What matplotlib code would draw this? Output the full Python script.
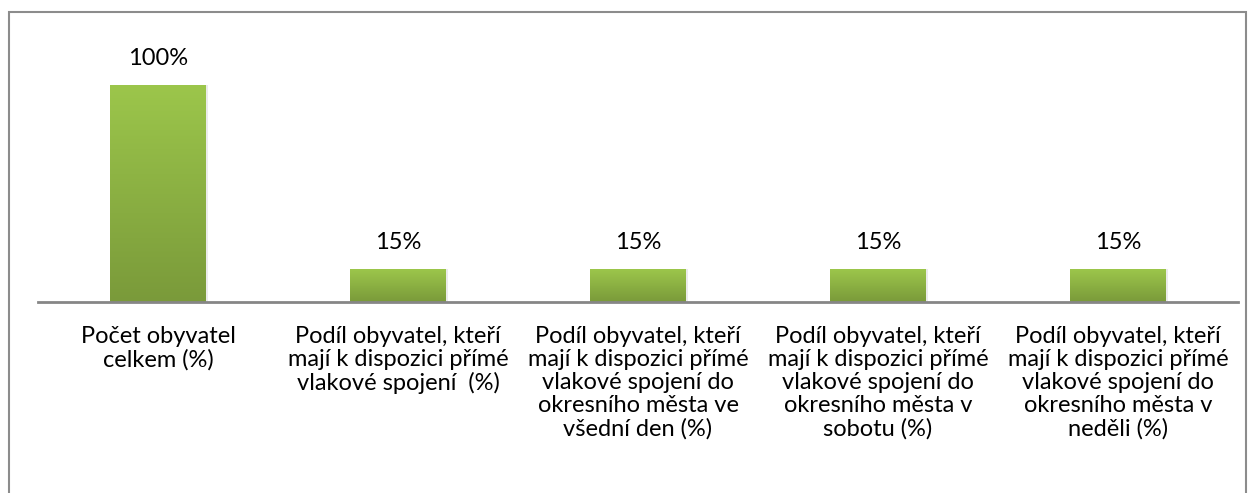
import matplotlib
matplotlib.use("Agg")
import matplotlib.pyplot as plt
import numpy as np
from matplotlib.patches import Rectangle
from matplotlib.colors import LinearSegmentedColormap

categories = [
    "Počet obyvatel\ncelkem (%)",
    "Podíl obyvatel, kteří\nmají k dispozici přímé\nvlakové spojení  (%)",
    "Podíl obyvatel, kteří\nmají k dispozici přímé\nvlakové spojení do\nokresního města ve\nvšední den (%)",
    "Podíl obyvatel, kteří\nmají k dispozici přímé\nvlakové spojení do\nokresního města v\nsobotu (%)",
    "Podíl obyvatel, kteří\nmají k dispozici přímé\nvlakové spojení do\nokresního města v\nneděli (%)",
]
values = [100, 15, 15, 15, 15]
value_labels = ["100%", "15%", "15%", "15%", "15%"]

W, H = 1253, 493
fig = plt.figure(figsize=(W / 100, H / 100), dpi=100)
plt.rcParams['font.family'] = ['Lato', 'DejaVu Sans']

# outer chart border
fig.patches.append(Rectangle((9 / W, -0.1), (1246 - 9) / W, (H - 12) / H + 0.1,
                             transform=fig.transFigure, fill=False,
                             edgecolor="#8c8c8c", linewidth=1.5))

ax_left, ax_right = 38 / W, 1238 / W
base_y = (H - 302) / H
scale = 217 / 100  # pixels per unit
ymax = 120
ax_top = (H - (302 - scale * ymax)) / H
ax = fig.add_axes([ax_left, base_y, ax_right - ax_left, ax_top - base_y])

x = np.arange(len(categories))
bw = 0.4
bars = ax.bar(x, values, width=bw, color="none", edgecolor="none", zorder=2)

cmap = LinearSegmentedColormap.from_list("g", ["#7a9a3a", "#9cc64b"])
grad = np.linspace(0, 1, 256).reshape(-1, 1)
for b, v in zip(bars, values):
    x0 = b.get_x()
    # soft shadow
    ax.add_patch(Rectangle((x0 + 0.008, 0), bw, v, facecolor="#000000", alpha=0.08,
                           edgecolor="none", zorder=1))
    im = ax.imshow(grad, cmap=cmap, origin="lower", aspect="auto",
                   extent=[x0, x0 + bw, 0, v], zorder=2)
    im.set_clip_path(b)

for xi, v, lab in zip(x, values, value_labels):
    ax.text(xi, v + 12.4, lab, ha="center", va="center", fontsize=17, color="#000000")

ax.set_xlim(-0.5, len(categories) - 0.5)
ax.set_ylim(0, ymax)
ax.set_xticks(x)
ax.set_xticklabels(categories, fontsize=17, linespacing=1.12)
ax.tick_params(axis="x", length=0, pad=17)
ax.set_yticks([])
for s in ["top", "left", "right"]:
    ax.spines[s].set_visible(False)
ax.spines["bottom"].set_color("#868686")
ax.spines["bottom"].set_linewidth(2)
ax.patch.set_alpha(0)

fig.savefig("out.png", dpi=100)
